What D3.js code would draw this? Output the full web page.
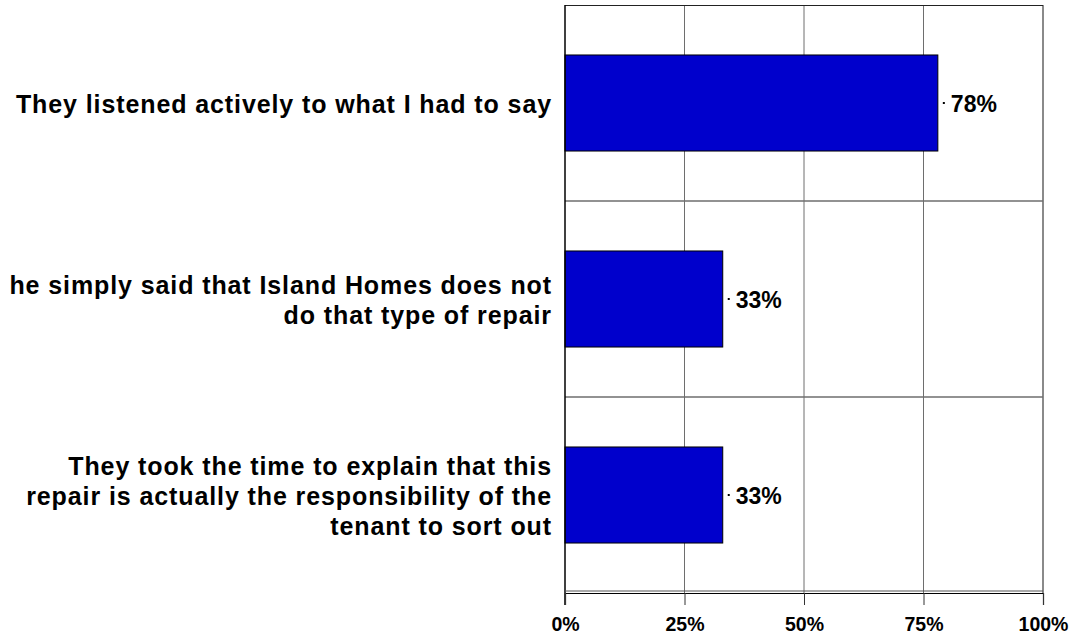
<!DOCTYPE html>
<html>
<head>
<meta charset="utf-8">
<script src="https://cdn.jsdelivr.net/npm/d3@7"></script>
<style>
  html, body { margin: 0; padding: 0; background: #fff; }
  svg { display: block; }
  text { font-family: "Liberation Sans", Arial, sans-serif; font-weight: bold; fill: #000; }
</style>
</head>
<body>
<svg id="chart" width="1076" height="638"></svg>
<script>
// Survey responses: share of tenants agreeing with each statement
const categories = [
  ["They listened actively to what I had to say"],
  ["he simply said that Island Homes does not", "do that type of repair"],
  ["They took the time to explain that this", "repair is actually the responsibility of the", "tenant to sort out"]
];
const values = [0.78, 0.33, 0.33];
const tickValues = [0, 0.25, 0.5, 0.75, 1];
const tickLabels = ["0%", "25%", "50%", "75%", "100%"];

const svg = d3.select("#chart");
const margin = { left: 565, right: 33, top: 5, bottom: 45 };
const W = 1076, H = 638;
const x0 = margin.left, x1 = W - margin.right;
const y0 = margin.top, y1 = H - margin.bottom;

const x = d3.scaleLinear().domain([0, 1]).range([x0, x1]);
const y = d3.scaleBand().domain(d3.range(categories.length)).range([y0, y1]).padding(0);
const barH = y.bandwidth() * 0.49;

// vertical gridlines
svg.append("g").selectAll("line")
  .data(tickValues.slice(1))
  .join("line")
  .attr("x1", d => x(d)).attr("x2", d => x(d))
  .attr("y1", y0).attr("y2", y1)
  .attr("stroke", d => d === 1 ? "#8a8a8a" : "#6e6e6e")
  .attr("stroke-width", d => d === 1 ? 2 : 1);

// horizontal separators between categories
svg.append("g").selectAll("line")
  .data(d3.range(1, categories.length))
  .join("line")
  .attr("x1", x0).attr("x2", x1)
  .attr("y1", d => y(d)).attr("y2", d => y(d))
  .attr("stroke", "#6e6e6e").attr("stroke-width", 1.5);

// top border
svg.append("line")
  .attr("x1", x0).attr("x2", x1).attr("y1", y0 + 0.5).attr("y2", y0 + 0.5)
  .attr("stroke", "#222").attr("stroke-width", 1);

// bars
svg.append("g").selectAll("rect")
  .data(values)
  .join("rect")
  .attr("x", x(0))
  .attr("y", (d, i) => y(i) + (y.bandwidth() - barH) / 2)
  .attr("width", d => x(d) - x(0))
  .attr("height", barH)
  .attr("fill", "#0000CC")
  .attr("stroke", "#000").attr("stroke-width", 1);

// value labels with small leader dot
const vl = svg.append("g").selectAll("g")
  .data(values)
  .join("g")
  .attr("transform", (d, i) => `translate(${x(d)},${y(i) + y.bandwidth() / 2})`);
vl.append("rect").attr("x", 5).attr("y", -1).attr("width", 2).attr("height", 2).attr("fill", "#000");
vl.append("text")
  .attr("x", 13).attr("dy", "0.38em")
  .attr("font-size", 23)
  .text(d => Math.round(d * 100) + "%");

// left axis line
svg.append("line")
  .attr("x1", x0).attr("x2", x0).attr("y1", y0).attr("y2", y1 + 12)
  .attr("stroke", "#000").attr("stroke-width", 1.5);

// bottom axis (double line with ticks)
svg.append("line")
  .attr("x1", x0).attr("x2", x1).attr("y1", y1 - 2).attr("y2", y1 - 2)
  .attr("stroke", "#555").attr("stroke-width", 1);
const xAxis = d3.axisBottom(x)
  .tickValues(tickValues)
  .tickFormat((d, i) => tickLabels[i])
  .tickSize(12)
  .tickPadding(12);
const gx = svg.append("g")
  .attr("transform", `translate(0,${y1})`)
  .call(xAxis);
gx.select(".domain").attr("stroke", "#000").attr("stroke-width", 1.2);
gx.selectAll(".tick line").attr("stroke", "#333");
gx.selectAll(".tick text")
  .attr("font-size", 19.5)
  .attr("font-family", "Liberation Sans, Arial, sans-serif")
  .attr("font-weight", "bold")
  .attr("fill", "#000");

// category labels, right aligned next to the axis
const lineH = 30;
svg.append("g").selectAll("text")
  .data(categories)
  .join("text")
  .attr("text-anchor", "end")
  .attr("font-size", 25)
  .attr("letter-spacing", 0.9)
  .attr("transform", (d, i) => `translate(552,${y(i) + y.bandwidth() / 2})`)
  .each(function (lines) {
    const t = d3.select(this);
    const off = -(lines.length - 1) / 2 * lineH;
    lines.forEach((ln, k) => {
      t.append("tspan").attr("x", 0).attr("y", off + k * lineH).attr("dy", "0.4em").text(ln);
    });
  });
</script>
</body>
</html>
